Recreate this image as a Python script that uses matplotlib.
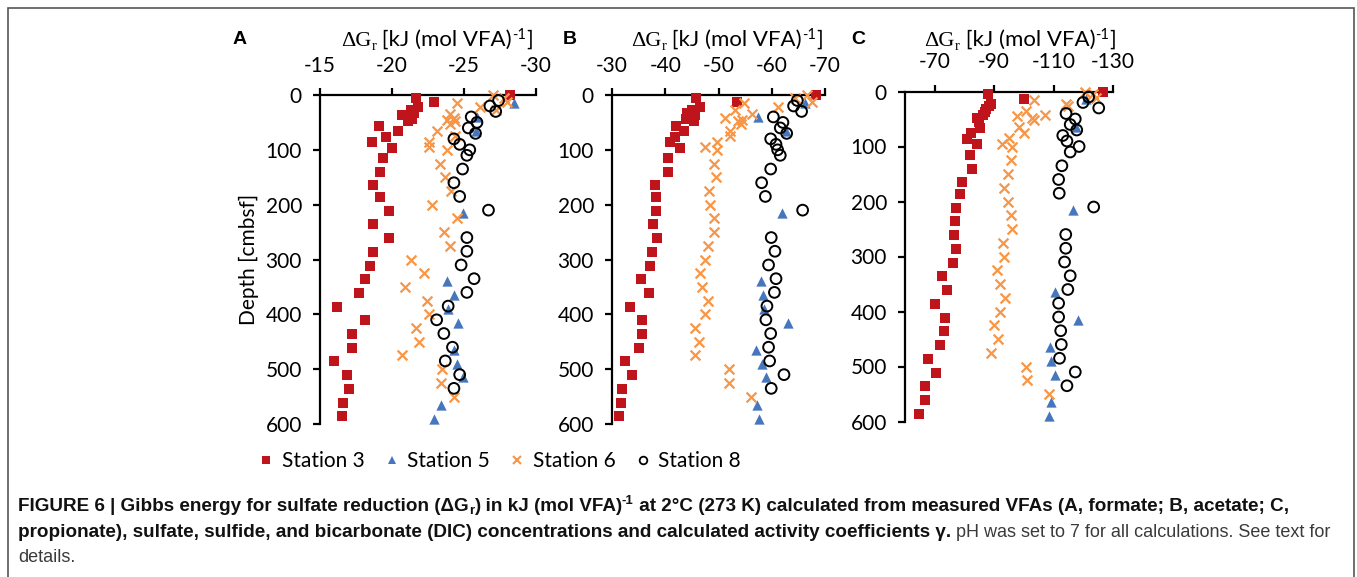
import matplotlib
matplotlib.use('Agg')
import matplotlib.pyplot as plt
import numpy as np
from matplotlib.transforms import IdentityTransform
from matplotlib.lines import Line2D
from matplotlib.patches import Rectangle

nan = np.nan

# ---------------- data ----------------
depth_st3 = [0, 5, 13, 22, 27, 32, 37, 43, 48, 56, 66, 76, 86, 96, 115, 140, 165, 186, 211, 236,
             261, 286, 311, 336, 361, 386, 411, 436, 461, 486, 511, 536, 561, 586]
a_st3 = [-28.2, -21.7, -22.9, -21.8, -21.3, -21.5, -20.7, -21.4, -21.1, -19.1, -20.4, -19.6, -18.6, -20.0,
         -19.4, -19.2, -18.7, -19.2, -19.8, -18.7, -19.8, -18.7, -18.5, -18.1, -17.7, -16.2, -18.1, -17.2,
         -17.2, -16.0, -16.9, -17.0, -16.6, -16.5]
b_st3 = [-68.4, -45.8, -53.4, -46.6, -45.0, -44.1, -45.6, -43.9, -45.4, -42.1, -43.6, -41.9, -40.9, -42.8,
         -40.6, -40.6, -38.0, -38.3, -38.3, -37.7, -38.4, -37.6, -37.2, -35.5, -36.9, -33.4, -35.6, -35.6,
         -35.0, -32.5, -33.8, -31.9, -31.6, -31.4]
c_st3 = [-126.8, -88.0, -100.2, -89.1, -88.3, -87.4, -86.9, -86.1, -84.1, -84.8, -85.2, -82.2, -81.0, -84.1,
         -81.8, -82.6, -79.2, -78.4, -77.3, -76.8, -76.4, -77.0, -76.2, -72.5, -74.2, -70.0, -73.4, -73.0,
         -71.9, -67.7, -70.3, -66.6, -66.8, -64.6]

depth_st5 = [14, 40, 65, 215, 340, 365, 390, 415, 465, 490, 515, 565, 590]
a_st5 = [-28.5, -25.9, -25.8, -24.9, -23.8, -24.3, -23.9, -24.6, -24.3, -24.5, -24.9, -23.4, -22.9]
b_st5 = [-66.3, -57.5, -62.6, -61.9, -58.0, -58.3, -58.6, -63.0, -57.1, -58.1, -58.9, -57.3, -57.6]
c_st5 = [-121.0, nan, -117.6, -116.5, nan, -110.5, nan, -118.2, -108.8, -109.2, -110.5, -109.2, -108.6]

depth_st6 = [0, 5, 12, 15, 22, 27, 35, 42, 45, 48, 52, 65, 75, 85, 95, 100, 125, 150, 175, 200, 225,
             250, 275, 300, 325, 350, 375, 400, 425, 450, 475, 500, 525, 550]
a_st6 = [-27.0, -27.8, -28.0, -24.5, -26.1, -27.2, -24.0, -24.3, -23.8, -24.4, -24.0, -23.1, -24.4, -22.6,
         -22.6, -23.8, -23.3, -23.7, -24.1, -22.8, -24.5, -23.6, -24.0, -21.3, -22.2, -20.9, -22.4, -22.6,
         -21.7, -21.9, -20.7, -23.5, -23.4, -24.3]
b_st6 = [-66.6, -64.4, -67.5, -54.7, -61.2, -53.1, -56.2, -51.2, -54.4, -53.6, -54.2, -52.2, -52.2, -49.7,
         -47.5, -49.7, -49.1, -49.5, -48.3, -48.4, -49.2, -49.1, -48.1, -47.4, -46.6, -46.9, -48.1, -47.5,
         -45.6, -46.3, -45.6, -51.9, -51.9, -56.1]
c_st6 = [-120.6, -123.3, -124.4, -103.3, -114.3, -114.8, -100.6, -107.0, -97.8, -102.8, -103.3, -98.3,
         -100.0, -95.0, -92.8, -96.1, -95.6, -94.8, -93.3, -94.8, -95.6, -95.9, -92.9, -93.3, -91.1, -92.0,
         -93.6, -92.0, -89.9, -91.4, -89.1, -100.7, -101.0, -108.6]

depth_st8 = [10, 20, 30, 40, 50, 60, 70, 80, 90, 100, 110, 135, 160, 185, 210, 260, 285, 310, 335, 360,
             385, 410, 435, 460, 485, 510, 535]
a_st8 = [-27.4, -26.8, -27.2, -25.5, -25.9, -25.3, -25.8, -24.3, -24.7, -25.4, -25.2, -24.9, -24.3, -24.7,
         -26.7, -25.2, -25.2, -24.8, -25.7, -25.2, -23.9, -23.1, -23.6, -24.2, -23.7, -24.7, -24.3]
b_st8 = [-64.8, -64.1, -65.6, -60.3, -62.1, -61.6, -62.8, -59.8, -60.8, -61.1, -61.6, -59.8, -58.1, -58.8,
         -65.8, -59.9, -60.6, -59.4, -60.8, -60.5, -59.1, -58.9, -59.8, -59.4, -59.6, -62.3, -59.9]
c_st8 = [-121.8, -119.9, -125.2, -114.2, -117.3, -115.6, -117.8, -113.1, -114.5, -118.6, -115.6, -112.8,
         -111.7, -111.9, -123.5, -114.1, -114.1, -113.7, -115.6, -114.8, -111.7, -111.7, -112.4, -112.6,
         -112.0, -117.3, -114.5]

station_labels = ['Station 3', 'Station 5', 'Station 6', 'Station 8']
panel_letters = ['A', 'B', 'C']
xticks_a = [-15, -20, -25, -30]
xticks_b = [-30, -40, -50, -60, -70]
xticks_c = [-70, -90, -110, -130]
yticks = [0, 100, 200, 300, 400, 500, 600]
ylabel = 'Depth [cmbsf]'

# ---------------- styling ----------------
plt.rcParams['font.family'] = ['Lato', 'DejaVu Sans']
plt.rcParams['axes.unicode_minus'] = False

W, H = 1357, 577
fig = plt.figure(figsize=(W / 100, H / 100), dpi=100)
fig.patch.set_facecolor('white')
R = fig.canvas.get_renderer()
ID = IdentityTransform()

RED = '#C0141C'
BLUE = '#4677BE'
ORANGE = '#F79646'

styles = [
    dict(marker='s', s=52, color=RED, linewidths=0),
    dict(marker='^', s=55, color=BLUE, linewidths=0),
    dict(marker='x', s=50, color=ORANGE, linewidths=1.6),
    dict(marker='o', s=60, facecolors='none', edgecolors='black', linewidths=1.4),
]
depths = [depth_st3, depth_st5, depth_st6, depth_st8]


def measure(txt, **kw):
    t = fig.text(0, 0, 'x' + txt + 'x', transform=ID, **kw)
    w1 = t.get_window_extent(R).width
    t.set_text('xx')
    w2 = t.get_window_extent(R).width
    t.remove()
    return w1 - w2


def rich(x, y, pieces, align='left'):
    widths = [measure(p[0], **p[1]) for p in pieces]
    if align == 'center':
        x -= sum(widths) / 2
    for (txt, kw, dy), w in zip(pieces, widths):
        fig.text(x, H - y + dy, txt, transform=ID, va='baseline', ha='left', **kw)
        x += w
    return x


panels = [
    dict(rect=(320, 95, 536, 424), xlim=(-15, -30), xticks=xticks_a,
         data=[a_st3, a_st5, a_st6, a_st8], letter_x=233, label_cx=437),
    dict(rect=(612, 95, 825, 424), xlim=(-30, -70), xticks=xticks_b,
         data=[b_st3, b_st5, b_st6, b_st8], letter_x=563, label_cx=727),
    dict(rect=(905, 91.5, 1113, 421.5), xlim=(-60, -130), xticks=xticks_c,
         data=[c_st3, c_st5, c_st6, c_st8], letter_x=851, label_cx=1020),
]

serif = dict(family='Liberation Serif', fontsize=16, color='black')
serif_s = dict(family='Liberation Serif', fontsize=10.5, color='black')
sans = dict(family='Lato', fontsize=16, color='black')
sans_s = dict(family='Lato', fontsize=10.5, color='black')

for i, p in enumerate(panels):
    l, t, r, b = p['rect']
    ax = fig.add_axes([l / W, 1 - b / H, (r - l) / W, (b - t) / H])
    ax.set_xlim(*p['xlim'])
    ax.set_ylim(600, 0)
    ax.set_xticks(p['xticks'])
    ax.set_yticks(yticks)
    ax.xaxis.tick_top()
    for side in ('bottom', 'right'):
        ax.spines[side].set_visible(False)
    for side in ('top', 'left'):
        ax.spines[side].set_linewidth(1.6)
    ax.tick_params(axis='both', direction='out', length=5, width=1.6, labelsize=15)
    ax.tick_params(axis='x', pad=9)
    ax.tick_params(axis='y', pad=8)
    ax.patch.set_alpha(0)
    for vals, dep, st, lab in zip(p['data'], depths, styles, station_labels):
        ax.scatter(vals, dep, clip_on=False, zorder=3, label=lab, **st)
    if i == 0:
        ax.set_ylabel(ylabel, fontsize=15, labelpad=5)
    fig.text(p['letter_x'], H - 44, panel_letters[i], transform=ID, fontsize=14,
             fontweight='bold', family='Liberation Sans', va='baseline')
    rich(p['label_cx'], 46, [
        ('\u0394G', serif, 0),
        ('r', serif_s, -4),
        (' [kJ (mol VFA)', sans, 0),
        ('-1', sans_s, 7),
        (']', sans, 0),
    ], align='center')

# legend
handles = [
    Line2D([], [], ls='none', marker='s', ms=5.5, color=RED, mew=0),
    Line2D([], [], ls='none', marker='^', ms=6, color=BLUE, mew=0),
    Line2D([], [], ls='none', marker='x', ms=5.5, color=ORANGE, mew=1.5),
    Line2D([], [], ls='none', marker='o', ms=5.5, mfc='none', mec='black', mew=1.3),
]
fig.legend(handles, station_labels, loc='center left', bbox_to_anchor=(260 / W, 1 - 461 / H),
           ncol=4, frameon=False, prop=dict(family='Lato', size=15), handlelength=0.6,
           handletextpad=0.45, columnspacing=1.0, borderaxespad=0, borderpad=0)

# outer frame
fig.add_artist(Rectangle((8 / W, -0.05), (1354 - 8) / W, 1.05 - 8 / H, transform=fig.transFigure,
                         fill=False, edgecolor='#555555', linewidth=1.2))

# caption
cb = dict(family='Liberation Sans', fontsize=13.6, fontweight='bold', color='#111111')
cbs = dict(family='Liberation Sans', fontsize=9.5, fontweight='bold', color='#111111')
cr = dict(family='Liberation Sans', fontsize=13, color='#3a3a3a')
rich(18, 511, [
    ('FIGURE 6 | Gibbs energy for sulfate reduction (\u0394G', cb, 0),
    ('r', cbs, -3),
    (') in kJ (mol VFA)', cb, 0),
    ('-1', cbs, 7),
    (' at 2\u00b0C (273 K) calculated from measured VFAs (A, formate; B, acetate; C,', cb, 0),
])
rich(18, 537, [
    ('propionate), sulfate, sulfide, and bicarbonate (DIC) concentrations and calculated activity coefficients \u03b3.', cb, 0),
    (' pH was set to 7 for all calculations. See text for', cr, 0),
])
rich(18, 562, [('details.', cr, 0)])

fig.savefig('out.png', dpi=100, facecolor='white')
